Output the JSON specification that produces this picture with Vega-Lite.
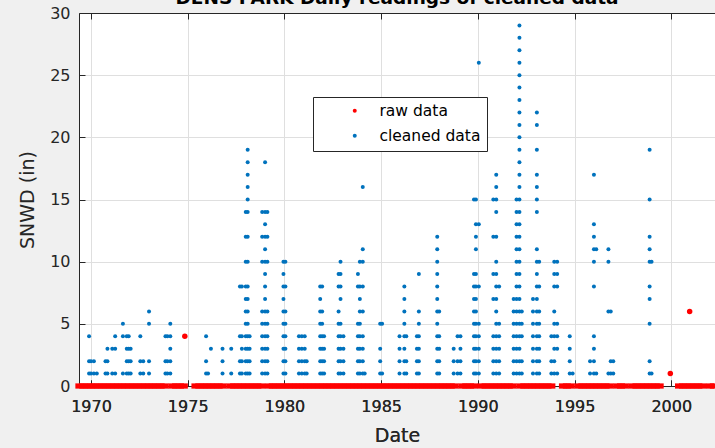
{
"$schema": "https://vega.github.io/schema/vega-lite/v6.json",
"width": 636, "height": 373,
"autosize": "none",
"padding": {"left": 79, "top": 13, "right": 0, "bottom": 62},
"background": "#f0f0f0",
"view": {"fill": "#ffffff", "stroke": null},
"title": {"text": "DENS PARK Daily readings of cleaned data", "font": "DejaVu Sans", "fontSize": 18.5, "fontWeight": "bold", "color": "#000000", "anchor": "middle", "baseline": "alphabetic", "offset": 0, "dy": 17},
"config": {
  "axis": {"labelFont": "DejaVu Sans", "labelFontSize": 16, "labelColor": "#262626", "titleFont": "DejaVu Sans", "titleFontWeight": "normal", "titleColor": "#262626", "titleFontSize": 19, "domainColor": "#262626", "tickColor": "#262626", "gridColor": "#dfdfdf", "gridOpacity": 1, "tickSize": -6, "domainWidth": 1, "tickWidth": 1}
},
"datasets": {
"raw": [
{"year":1969.4,"snwd":0},{"year":1969.6,"snwd":0},{"year":1969.8,"snwd":0},
{"year":1970.0,"snwd":0},{"year":1970.2,"snwd":0},{"year":1970.4,"snwd":0},{"year":1970.6,"snwd":0},{"year":1970.8,"snwd":0},
{"year":1971.0,"snwd":0},{"year":1971.2,"snwd":0},{"year":1971.4,"snwd":0},{"year":1971.6,"snwd":0},{"year":1971.8,"snwd":0},
{"year":1972.0,"snwd":0},{"year":1972.2,"snwd":0},{"year":1972.4,"snwd":0},{"year":1972.6,"snwd":0},{"year":1972.8,"snwd":0},
{"year":1973.0,"snwd":0},{"year":1973.2,"snwd":0},{"year":1973.4,"snwd":0},{"year":1973.6,"snwd":0},{"year":1973.8,"snwd":0},
{"year":1974.2,"snwd":0},{"year":1974.4,"snwd":0},{"year":1974.6,"snwd":0},{"year":1974.8,"snwd":0},
{"year":1975.4,"snwd":0},{"year":1975.6,"snwd":0},{"year":1975.8,"snwd":0},
{"year":1976.0,"snwd":0},{"year":1976.2,"snwd":0},{"year":1976.4,"snwd":0},{"year":1976.6,"snwd":0},{"year":1976.8,"snwd":0},
{"year":1977.2,"snwd":0},{"year":1977.4,"snwd":0},{"year":1977.6,"snwd":0},{"year":1977.8,"snwd":0},
{"year":1978.0,"snwd":0},{"year":1978.2,"snwd":0},{"year":1978.4,"snwd":0},{"year":1978.6,"snwd":0},{"year":1978.8,"snwd":0},
{"year":1979.2,"snwd":0},{"year":1979.4,"snwd":0},{"year":1979.6,"snwd":0},{"year":1979.8,"snwd":0},
{"year":1980.0,"snwd":0},{"year":1980.2,"snwd":0},{"year":1980.4,"snwd":0},{"year":1980.6,"snwd":0},{"year":1980.8,"snwd":0},
{"year":1981.0,"snwd":0},{"year":1981.2,"snwd":0},{"year":1981.4,"snwd":0},{"year":1981.6,"snwd":0},{"year":1981.8,"snwd":0},
{"year":1982.0,"snwd":0},{"year":1982.2,"snwd":0},{"year":1982.4,"snwd":0},{"year":1982.6,"snwd":0},{"year":1982.8,"snwd":0},
{"year":1983.0,"snwd":0},{"year":1983.2,"snwd":0},{"year":1983.4,"snwd":0},{"year":1983.6,"snwd":0},{"year":1983.8,"snwd":0},
{"year":1984.0,"snwd":0},{"year":1984.2,"snwd":0},{"year":1984.4,"snwd":0},{"year":1984.6,"snwd":0},{"year":1984.8,"snwd":0},
{"year":1985.0,"snwd":0},{"year":1985.2,"snwd":0},{"year":1985.4,"snwd":0},{"year":1985.6,"snwd":0},{"year":1985.8,"snwd":0},
{"year":1986.0,"snwd":0},{"year":1986.2,"snwd":0},{"year":1986.4,"snwd":0},{"year":1986.6,"snwd":0},{"year":1986.8,"snwd":0},
{"year":1987.0,"snwd":0},{"year":1987.2,"snwd":0},{"year":1987.4,"snwd":0},{"year":1987.6,"snwd":0},{"year":1987.8,"snwd":0},
{"year":1988.0,"snwd":0},{"year":1988.2,"snwd":0},{"year":1988.4,"snwd":0},{"year":1988.6,"snwd":0},{"year":1988.8,"snwd":0},
{"year":1989.2,"snwd":0},{"year":1989.4,"snwd":0},{"year":1989.6,"snwd":0},{"year":1989.8,"snwd":0},
{"year":1990.2,"snwd":0},{"year":1990.4,"snwd":0},{"year":1990.6,"snwd":0},{"year":1990.8,"snwd":0},
{"year":1991.0,"snwd":0},{"year":1991.2,"snwd":0},{"year":1991.4,"snwd":0},{"year":1991.6,"snwd":0},{"year":1991.8,"snwd":0},
{"year":1992.2,"snwd":0},{"year":1992.4,"snwd":0},{"year":1992.6,"snwd":0},{"year":1992.8,"snwd":0},
{"year":1993.0,"snwd":0},{"year":1993.2,"snwd":0},{"year":1993.4,"snwd":0},{"year":1993.6,"snwd":0},{"year":1993.8,"snwd":0},
{"year":1994.4,"snwd":0},{"year":1994.6,"snwd":0},{"year":1994.8,"snwd":0},
{"year":1995.2,"snwd":0},{"year":1995.4,"snwd":0},{"year":1995.6,"snwd":0},{"year":1995.8,"snwd":0},
{"year":1996.0,"snwd":0},{"year":1996.2,"snwd":0},{"year":1996.4,"snwd":0},{"year":1996.6,"snwd":0},{"year":1996.8,"snwd":0},
{"year":1997.2,"snwd":0},{"year":1997.4,"snwd":0},{"year":1997.6,"snwd":0},
{"year":1998.0,"snwd":0},{"year":1998.2,"snwd":0},{"year":1998.4,"snwd":0},{"year":1998.6,"snwd":0},{"year":1998.8,"snwd":0},
{"year":1999.0,"snwd":0},{"year":1999.2,"snwd":0},{"year":1999.4,"snwd":0},
{"year":2000.4,"snwd":0},{"year":2000.6,"snwd":0},{"year":2000.8,"snwd":0},
{"year":2001.0,"snwd":0},{"year":2001.2,"snwd":0},{"year":2001.4,"snwd":0},{"year":2001.6,"snwd":0},
{"year":2002.0,"snwd":0},{"year":2002.2,"snwd":0},
{"year":1974.85,"snwd":4},{"year":1999.95,"snwd":1},{"year":2000.95,"snwd":6}
],
"cleaned": [
{"year":1969.9,"snwd":4},{"year":1969.9,"snwd":2},{"year":1969.9,"snwd":1},
{"year":1970.0,"snwd":2},{"year":1970.0,"snwd":1},
{"year":1970.15,"snwd":2},{"year":1970.15,"snwd":1},
{"year":1970.3,"snwd":1},
{"year":1970.75,"snwd":2},{"year":1970.75,"snwd":1},
{"year":1970.85,"snwd":3},{"year":1970.85,"snwd":2},{"year":1970.85,"snwd":1},
{"year":1971.1,"snwd":3},{"year":1971.1,"snwd":1},
{"year":1971.25,"snwd":4},{"year":1971.25,"snwd":3},{"year":1971.25,"snwd":1},
{"year":1971.65,"snwd":5},{"year":1971.65,"snwd":4},{"year":1971.65,"snwd":1},
{"year":1971.85,"snwd":4},{"year":1971.85,"snwd":3},{"year":1971.85,"snwd":2},{"year":1971.85,"snwd":1},
{"year":1971.95,"snwd":4},{"year":1971.95,"snwd":3},{"year":1971.95,"snwd":2},{"year":1971.95,"snwd":1},
{"year":1972.05,"snwd":3},{"year":1972.05,"snwd":2},{"year":1972.05,"snwd":1},
{"year":1972.55,"snwd":4},{"year":1972.55,"snwd":2},{"year":1972.55,"snwd":1},
{"year":1972.7,"snwd":2},{"year":1972.7,"snwd":1},
{"year":1973.0,"snwd":6},{"year":1973.0,"snwd":5},{"year":1973.0,"snwd":2},{"year":1973.0,"snwd":1},
{"year":1973.85,"snwd":4},{"year":1973.85,"snwd":2},{"year":1973.85,"snwd":1},
{"year":1973.95,"snwd":4},{"year":1973.95,"snwd":2},{"year":1973.95,"snwd":1},
{"year":1974.1,"snwd":5},{"year":1974.1,"snwd":4},{"year":1974.1,"snwd":3},{"year":1974.1,"snwd":2},{"year":1974.1,"snwd":1},
{"year":1975.95,"snwd":4},{"year":1975.95,"snwd":2},{"year":1975.95,"snwd":1},
{"year":1976.05,"snwd":1},{"year":1976.2,"snwd":3},
{"year":1976.8,"snwd":3},{"year":1976.8,"snwd":2},{"year":1976.8,"snwd":1},
{"year":1977.25,"snwd":3},{"year":1977.25,"snwd":1},
{"year":1977.7,"snwd":8},{"year":1977.7,"snwd":4},{"year":1977.7,"snwd":2},{"year":1977.7,"snwd":1},
{"year":1977.8,"snwd":8},{"year":1977.8,"snwd":4},{"year":1977.8,"snwd":3},{"year":1977.8,"snwd":2},{"year":1977.8,"snwd":1},
{"year":1978.0,"snwd":14},{"year":1978.0,"snwd":12},{"year":1978.0,"snwd":10},{"year":1978.0,"snwd":8},{"year":1978.0,"snwd":7},{"year":1978.0,"snwd":6},{"year":1978.0,"snwd":5},{"year":1978.0,"snwd":4},{"year":1978.0,"snwd":3},{"year":1978.0,"snwd":2},{"year":1978.0,"snwd":1},
{"year":1978.1,"snwd":19},{"year":1978.1,"snwd":18},{"year":1978.1,"snwd":17},{"year":1978.1,"snwd":16},{"year":1978.1,"snwd":15},{"year":1978.1,"snwd":14},{"year":1978.1,"snwd":12},{"year":1978.1,"snwd":10},{"year":1978.1,"snwd":8},{"year":1978.1,"snwd":7},{"year":1978.1,"snwd":6},{"year":1978.1,"snwd":5},{"year":1978.1,"snwd":4},{"year":1978.1,"snwd":3},{"year":1978.1,"snwd":2},{"year":1978.1,"snwd":1},
{"year":1978.2,"snwd":4},{"year":1978.2,"snwd":3},{"year":1978.2,"snwd":2},{"year":1978.2,"snwd":1},
{"year":1978.85,"snwd":14},{"year":1978.85,"snwd":12},{"year":1978.85,"snwd":10},{"year":1978.85,"snwd":6},{"year":1978.85,"snwd":5},{"year":1978.85,"snwd":4},{"year":1978.85,"snwd":3},{"year":1978.85,"snwd":2},{"year":1978.85,"snwd":1},
{"year":1979.0,"snwd":18},{"year":1979.0,"snwd":14},{"year":1979.0,"snwd":13},{"year":1979.0,"snwd":12},{"year":1979.0,"snwd":11},{"year":1979.0,"snwd":10},{"year":1979.0,"snwd":9},{"year":1979.0,"snwd":8},{"year":1979.0,"snwd":7},{"year":1979.0,"snwd":6},{"year":1979.0,"snwd":5},{"year":1979.0,"snwd":4},{"year":1979.0,"snwd":3},{"year":1979.0,"snwd":2},{"year":1979.0,"snwd":1},
{"year":1979.12,"snwd":14},{"year":1979.12,"snwd":12},{"year":1979.12,"snwd":10},{"year":1979.12,"snwd":6},{"year":1979.12,"snwd":5},{"year":1979.12,"snwd":4},{"year":1979.12,"snwd":3},{"year":1979.12,"snwd":2},{"year":1979.12,"snwd":1},
{"year":1979.95,"snwd":10},{"year":1979.95,"snwd":9},{"year":1979.95,"snwd":8},{"year":1979.95,"snwd":7},{"year":1979.95,"snwd":6},{"year":1979.95,"snwd":5},{"year":1979.95,"snwd":4},{"year":1979.95,"snwd":3},{"year":1979.95,"snwd":2},{"year":1979.95,"snwd":1},
{"year":1980.05,"snwd":10},{"year":1980.05,"snwd":8},{"year":1980.05,"snwd":6},{"year":1980.05,"snwd":5},{"year":1980.05,"snwd":4},{"year":1980.05,"snwd":3},{"year":1980.05,"snwd":2},{"year":1980.05,"snwd":1},
{"year":1980.75,"snwd":4},{"year":1980.75,"snwd":3},{"year":1980.75,"snwd":2},{"year":1980.75,"snwd":1},
{"year":1980.9,"snwd":4},{"year":1980.9,"snwd":3},{"year":1980.9,"snwd":2},{"year":1980.9,"snwd":1},
{"year":1981.05,"snwd":4},{"year":1981.05,"snwd":3},{"year":1981.05,"snwd":2},{"year":1981.05,"snwd":1},
{"year":1981.15,"snwd":2},{"year":1981.15,"snwd":1},
{"year":1981.85,"snwd":8},{"year":1981.85,"snwd":7},{"year":1981.85,"snwd":6},{"year":1981.85,"snwd":5},{"year":1981.85,"snwd":4},{"year":1981.85,"snwd":3},{"year":1981.85,"snwd":2},{"year":1981.85,"snwd":1},
{"year":1981.95,"snwd":8},{"year":1981.95,"snwd":6},{"year":1981.95,"snwd":5},{"year":1981.95,"snwd":4},{"year":1981.95,"snwd":3},{"year":1981.95,"snwd":2},{"year":1981.95,"snwd":1},
{"year":1982.05,"snwd":4},{"year":1982.05,"snwd":3},{"year":1982.05,"snwd":2},{"year":1982.05,"snwd":1},
{"year":1982.8,"snwd":9},{"year":1982.8,"snwd":8},{"year":1982.8,"snwd":6},{"year":1982.8,"snwd":5},{"year":1982.8,"snwd":4},{"year":1982.8,"snwd":3},{"year":1982.8,"snwd":2},{"year":1982.8,"snwd":1},
{"year":1982.9,"snwd":10},{"year":1982.9,"snwd":9},{"year":1982.9,"snwd":8},{"year":1982.9,"snwd":7},{"year":1982.9,"snwd":5},{"year":1982.9,"snwd":4},{"year":1982.9,"snwd":3},{"year":1982.9,"snwd":2},{"year":1982.9,"snwd":1},
{"year":1983.05,"snwd":4},{"year":1983.05,"snwd":3},{"year":1983.05,"snwd":2},{"year":1983.05,"snwd":1},
{"year":1983.8,"snwd":9},{"year":1983.8,"snwd":8},{"year":1983.8,"snwd":5},{"year":1983.8,"snwd":4},{"year":1983.8,"snwd":3},{"year":1983.8,"snwd":2},{"year":1983.8,"snwd":1},
{"year":1983.9,"snwd":10},{"year":1983.9,"snwd":8},{"year":1983.9,"snwd":7},{"year":1983.9,"snwd":6},{"year":1983.9,"snwd":5},{"year":1983.9,"snwd":4},{"year":1983.9,"snwd":3},{"year":1983.9,"snwd":2},{"year":1983.9,"snwd":1},
{"year":1984.05,"snwd":16},{"year":1984.05,"snwd":11},{"year":1984.05,"snwd":10},{"year":1984.05,"snwd":8},{"year":1984.05,"snwd":6},{"year":1984.05,"snwd":4},{"year":1984.05,"snwd":3},{"year":1984.05,"snwd":2},{"year":1984.05,"snwd":1},
{"year":1984.15,"snwd":1},
{"year":1984.95,"snwd":5},{"year":1984.95,"snwd":3},{"year":1984.95,"snwd":2},{"year":1984.95,"snwd":1},
{"year":1985.05,"snwd":5},{"year":1985.05,"snwd":1},
{"year":1985.95,"snwd":4},{"year":1985.95,"snwd":3},{"year":1985.95,"snwd":2},{"year":1985.95,"snwd":1},
{"year":1986.2,"snwd":8},{"year":1986.2,"snwd":7},{"year":1986.2,"snwd":6},{"year":1986.2,"snwd":5},{"year":1986.2,"snwd":4},{"year":1986.2,"snwd":3},{"year":1986.2,"snwd":2},{"year":1986.2,"snwd":1},
{"year":1986.3,"snwd":4},{"year":1986.3,"snwd":2},{"year":1986.3,"snwd":1},
{"year":1986.85,"snwd":4},{"year":1986.85,"snwd":3},{"year":1986.85,"snwd":2},{"year":1986.85,"snwd":1},
{"year":1986.95,"snwd":9},{"year":1986.95,"snwd":6},{"year":1986.95,"snwd":5},{"year":1986.95,"snwd":4},{"year":1986.95,"snwd":3},{"year":1986.95,"snwd":2},{"year":1986.95,"snwd":1},
{"year":1987.9,"snwd":12},{"year":1987.9,"snwd":11},{"year":1987.9,"snwd":10},{"year":1987.9,"snwd":9},{"year":1987.9,"snwd":8},{"year":1987.9,"snwd":7},{"year":1987.9,"snwd":6},{"year":1987.9,"snwd":5},{"year":1987.9,"snwd":4},{"year":1987.9,"snwd":3},{"year":1987.9,"snwd":2},{"year":1987.9,"snwd":1},
{"year":1988.0,"snwd":6},{"year":1988.0,"snwd":4},{"year":1988.0,"snwd":3},{"year":1988.0,"snwd":2},{"year":1988.0,"snwd":1},
{"year":1988.75,"snwd":3},{"year":1988.75,"snwd":2},{"year":1988.75,"snwd":1},
{"year":1988.95,"snwd":4},{"year":1988.95,"snwd":2},{"year":1988.95,"snwd":1},
{"year":1989.1,"snwd":4},{"year":1989.1,"snwd":3},{"year":1989.1,"snwd":2},{"year":1989.1,"snwd":1},
{"year":1989.8,"snwd":15},{"year":1989.8,"snwd":9},{"year":1989.8,"snwd":8},{"year":1989.8,"snwd":7},{"year":1989.8,"snwd":6},{"year":1989.8,"snwd":5},{"year":1989.8,"snwd":4},{"year":1989.8,"snwd":3},{"year":1989.8,"snwd":2},{"year":1989.8,"snwd":1},
{"year":1989.9,"snwd":15},{"year":1989.9,"snwd":13},{"year":1989.9,"snwd":12},{"year":1989.9,"snwd":11},{"year":1989.9,"snwd":9},{"year":1989.9,"snwd":8},{"year":1989.9,"snwd":7},{"year":1989.9,"snwd":6},{"year":1989.9,"snwd":5},{"year":1989.9,"snwd":4},{"year":1989.9,"snwd":3},{"year":1989.9,"snwd":2},{"year":1989.9,"snwd":1},
{"year":1990.05,"snwd":26},{"year":1990.05,"snwd":13},{"year":1990.05,"snwd":8},{"year":1990.05,"snwd":5},{"year":1990.05,"snwd":4},{"year":1990.05,"snwd":3},{"year":1990.05,"snwd":2},{"year":1990.05,"snwd":1},
{"year":1990.8,"snwd":15},{"year":1990.8,"snwd":12},{"year":1990.8,"snwd":9},{"year":1990.8,"snwd":7},{"year":1990.8,"snwd":4},{"year":1990.8,"snwd":3},{"year":1990.8,"snwd":2},{"year":1990.8,"snwd":1},
{"year":1990.95,"snwd":17},{"year":1990.95,"snwd":16},{"year":1990.95,"snwd":15},{"year":1990.95,"snwd":14},{"year":1990.95,"snwd":12},{"year":1990.95,"snwd":10},{"year":1990.95,"snwd":9},{"year":1990.95,"snwd":8},{"year":1990.95,"snwd":7},{"year":1990.95,"snwd":6},{"year":1990.95,"snwd":5},{"year":1990.95,"snwd":4},{"year":1990.95,"snwd":3},{"year":1990.95,"snwd":2},{"year":1990.95,"snwd":1},
{"year":1991.1,"snwd":8},{"year":1991.1,"snwd":5},{"year":1991.1,"snwd":4},{"year":1991.1,"snwd":3},{"year":1991.1,"snwd":2},{"year":1991.1,"snwd":1},
{"year":1991.85,"snwd":7},{"year":1991.85,"snwd":6},{"year":1991.85,"snwd":5},{"year":1991.85,"snwd":4},{"year":1991.85,"snwd":3},{"year":1991.85,"snwd":2},{"year":1991.85,"snwd":1},
{"year":1992.0,"snwd":15},{"year":1992.0,"snwd":14},{"year":1992.0,"snwd":13},{"year":1992.0,"snwd":12},{"year":1992.0,"snwd":11},{"year":1992.0,"snwd":10},{"year":1992.0,"snwd":9},{"year":1992.0,"snwd":8},{"year":1992.0,"snwd":7},{"year":1992.0,"snwd":6},{"year":1992.0,"snwd":5},{"year":1992.0,"snwd":4},{"year":1992.0,"snwd":3},{"year":1992.0,"snwd":2},{"year":1992.0,"snwd":1},
{"year":1992.15,"snwd":29},{"year":1992.15,"snwd":28},{"year":1992.15,"snwd":27},{"year":1992.15,"snwd":26},{"year":1992.15,"snwd":25},{"year":1992.15,"snwd":24},{"year":1992.15,"snwd":23},{"year":1992.15,"snwd":22},{"year":1992.15,"snwd":21},{"year":1992.15,"snwd":20},{"year":1992.15,"snwd":19},{"year":1992.15,"snwd":18},{"year":1992.15,"snwd":17},{"year":1992.15,"snwd":16},{"year":1992.15,"snwd":15},{"year":1992.15,"snwd":14},{"year":1992.15,"snwd":13},{"year":1992.15,"snwd":12},{"year":1992.15,"snwd":11},{"year":1992.15,"snwd":10},{"year":1992.15,"snwd":9},{"year":1992.15,"snwd":8},{"year":1992.15,"snwd":7},{"year":1992.15,"snwd":6},{"year":1992.15,"snwd":5},{"year":1992.15,"snwd":4},{"year":1992.15,"snwd":3},{"year":1992.15,"snwd":2},{"year":1992.15,"snwd":1},
{"year":1992.27,"snwd":6},{"year":1992.27,"snwd":5},{"year":1992.27,"snwd":4},{"year":1992.27,"snwd":2},{"year":1992.27,"snwd":1},
{"year":1992.85,"snwd":7},{"year":1992.85,"snwd":6},{"year":1992.85,"snwd":5},{"year":1992.85,"snwd":4},{"year":1992.85,"snwd":3},{"year":1992.85,"snwd":2},{"year":1992.85,"snwd":1},
{"year":1993.05,"snwd":22},{"year":1993.05,"snwd":21},{"year":1993.05,"snwd":19},{"year":1993.05,"snwd":17},{"year":1993.05,"snwd":16},{"year":1993.05,"snwd":15},{"year":1993.05,"snwd":14},{"year":1993.05,"snwd":11},{"year":1993.05,"snwd":10},{"year":1993.05,"snwd":9},{"year":1993.05,"snwd":8},{"year":1993.05,"snwd":7},{"year":1993.05,"snwd":6},{"year":1993.05,"snwd":5},{"year":1993.05,"snwd":4},{"year":1993.05,"snwd":3},{"year":1993.05,"snwd":2},{"year":1993.05,"snwd":1},
{"year":1993.17,"snwd":10},{"year":1993.17,"snwd":8},{"year":1993.17,"snwd":6},{"year":1993.17,"snwd":5},{"year":1993.17,"snwd":4},{"year":1993.17,"snwd":3},{"year":1993.17,"snwd":2},{"year":1993.17,"snwd":1},
{"year":1993.8,"snwd":4},{"year":1993.8,"snwd":2},{"year":1993.8,"snwd":1},
{"year":1993.95,"snwd":10},{"year":1993.95,"snwd":9},{"year":1993.95,"snwd":8},{"year":1993.95,"snwd":6},{"year":1993.95,"snwd":5},{"year":1993.95,"snwd":4},{"year":1993.95,"snwd":3},{"year":1993.95,"snwd":2},{"year":1993.95,"snwd":1},
{"year":1994.1,"snwd":10},{"year":1994.1,"snwd":9},{"year":1994.1,"snwd":8},{"year":1994.1,"snwd":5},{"year":1994.1,"snwd":4},{"year":1994.1,"snwd":3},{"year":1994.1,"snwd":1},
{"year":1994.75,"snwd":4},{"year":1994.75,"snwd":3},{"year":1994.75,"snwd":2},{"year":1994.75,"snwd":1},
{"year":1994.9,"snwd":1},
{"year":1995.8,"snwd":2},{"year":1995.8,"snwd":1},
{"year":1996.0,"snwd":17},{"year":1996.0,"snwd":13},{"year":1996.0,"snwd":12},{"year":1996.0,"snwd":11},{"year":1996.0,"snwd":10},{"year":1996.0,"snwd":8},{"year":1996.0,"snwd":4},{"year":1996.0,"snwd":3},{"year":1996.0,"snwd":2},{"year":1996.0,"snwd":1},
{"year":1996.12,"snwd":11},{"year":1996.12,"snwd":1},
{"year":1996.75,"snwd":11},{"year":1996.75,"snwd":10},{"year":1996.75,"snwd":6},{"year":1996.75,"snwd":1},
{"year":1996.87,"snwd":6},{"year":1996.87,"snwd":2},{"year":1996.87,"snwd":1},
{"year":1997.0,"snwd":2},{"year":1997.0,"snwd":1},
{"year":1998.88,"snwd":19},{"year":1998.88,"snwd":15},{"year":1998.88,"snwd":12},{"year":1998.88,"snwd":11},{"year":1998.88,"snwd":10},{"year":1998.88,"snwd":8},{"year":1998.88,"snwd":7},{"year":1998.88,"snwd":5},{"year":1998.88,"snwd":2},{"year":1998.88,"snwd":1},
{"year":1998.98,"snwd":10},{"year":1998.98,"snwd":1}
]
},
"layer": [
{
 "data": {"name": "raw"},
 "transform": [{"filter": "datum.snwd == 0"}],
 "mark": {"type": "point", "filled": true, "opacity": 1, "size": 49, "shape": "M-1.15,-0.75L1.15,-0.75L1.15,0.75L-1.15,0.75Z"},
 "encoding": {
  "x": {"field": "year", "type": "quantitative", "scale": {"domain": [1969.38, 2002.26], "nice": false, "zero": false},
        "axis": {"orient": "bottom", "values": [1970,1975,1980,1985,1990,1995,2000], "format": "d", "title": "Date", "grid": true, "labelPadding": 18, "titlePadding": 12}},
  "y": {"field": "snwd", "type": "quantitative", "scale": {"domain": [0, 30], "nice": false, "zero": true},
        "axis": {"orient": "left", "values": [0,5,10,15,20,25,30], "title": "SNWD (in)", "grid": true, "labelPadding": 15, "titlePadding": 12}},
  "color": {"datum": "raw data", "type": "nominal",
            "scale": {"domain": ["raw data", "cleaned data"], "range": ["#ff0000", "#0072bd"]},
            "legend": {"title": null, "orient": "none", "legendX": 234, "legendY": 84, "strokeColor": "#262626", "fillColor": "#ffffff", "padding": 6, "symbolOffset": 28, "labelOffset": 17, "labelFont": "DejaVu Sans", "labelFontSize": 15.5, "labelColor": "#000000", "symbolSize": 16, "symbolType": "circle", "rowPadding": 8, "symbolStrokeWidth": 0}}
 }
},
{
 "data": {"name": "raw"},
 "transform": [{"filter": "datum.snwd > 0"}],
 "mark": {"type": "point", "filled": true, "opacity": 1, "size": 30, "shape": "circle"},
 "encoding": {
  "x": {"field": "year", "type": "quantitative",
        "axis": {"orient": "bottom", "values": [1970,1975,1980,1985,1990,1995,2000], "format": "d", "title": "Date", "grid": true, "labelPadding": 18, "titlePadding": 12}},
  "y": {"field": "snwd", "type": "quantitative",
        "axis": {"orient": "left", "values": [0,5,10,15,20,25,30], "title": "SNWD (in)", "grid": true, "labelPadding": 15, "titlePadding": 12}},
  "color": {"datum": "raw data", "type": "nominal"}
 }
},
{
 "data": {"name": "cleaned"},
 "mark": {"type": "point", "filled": true, "opacity": 1, "size": 16, "shape": "circle"},
 "encoding": {
  "x": {"field": "year", "type": "quantitative",
        "axis": {"orient": "top", "values": [1970,1975,1980,1985,1990,1995,2000], "labels": false, "title": null, "grid": false}},
  "y": {"field": "snwd", "type": "quantitative",
        "axis": {"orient": "left", "values": [0,5,10,15,20,25,30], "title": "SNWD (in)", "grid": true, "labelPadding": 15, "titlePadding": 12}},
  "color": {"datum": "cleaned data", "type": "nominal"}
 }
}
]
}
